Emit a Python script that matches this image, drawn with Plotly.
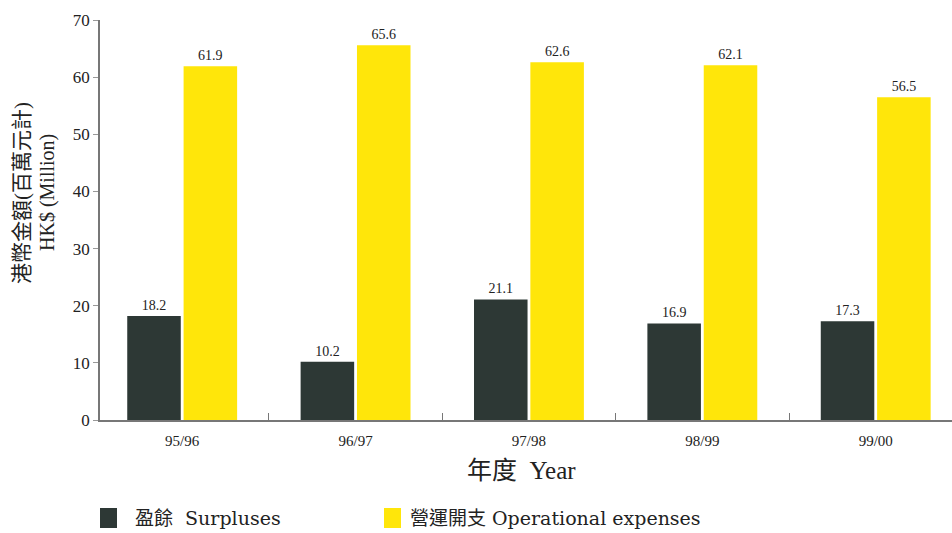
import plotly.graph_objects as go

years = ["95/96", "96/97", "97/98", "98/99", "99/00"]
surpluses = [18.2, 10.2, 21.1, 16.9, 17.3]
expenses = [61.9, 65.6, 62.6, 62.1, 56.5]
series_names = ["盈餘  Surpluses", "營運開支 Operational expenses"]

SERIF = "Liberation Serif, Noto Sans CJK TC, serif"
LEGSERIF = "DejaVu Serif, Noto Sans CJK TC, serif"
DARK = "#2d3835"
YELLOW = "#ffe60a"
colors = [DARK, YELLOW]

fig = go.Figure()
for name, vals, col in zip(series_names, [surpluses, expenses], colors):
    fig.add_trace(go.Bar(
        x=years, y=vals, name=name, showlegend=False,
        marker=dict(color=col, line=dict(width=0)),
        text=[f"{v:.1f}" for v in vals], textposition="outside",
        textfont=dict(family=SERIF, size=14, color="#222"),
        cliponaxis=False,
    ))

PW, PH = 852, 400  # plot area size in px


def px_x(x):
    return (x - 100) / PW


def px_y(y):
    return (420 - y) / PH


shapes = []
annotations = [
    dict(text="港幣金額(百萬元計)", textangle=-90, xref="paper", yref="paper",
         x=px_x(22), y=px_y(193), xanchor="center", yanchor="middle",
         showarrow=False, font=dict(family=SERIF, size=21, color="#222")),
    dict(text="HK$ (Million)", textangle=-90, xref="paper", yref="paper",
         x=px_x(47), y=px_y(193), xanchor="center", yanchor="middle",
         showarrow=False, font=dict(family=SERIF, size=20, color="#222")),
    dict(text="年度  Year", xref="paper", yref="paper",
         x=px_x(521), y=px_y(470), xanchor="center", yanchor="middle",
         showarrow=False, font=dict(family=SERIF, size=25, color="#222")),
]

# manual legend
leg_sq_x = [100, 384]
leg_tx_x = [133, 408]
for name, col, sx, tx in zip(series_names, colors, leg_sq_x, leg_tx_x):
    shapes.append(dict(type="rect", xref="paper", yref="paper",
                       x0=px_x(sx), x1=px_x(sx + 17), y0=px_y(528), y1=px_y(508),
                       fillcolor=col, line=dict(width=0)))
    annotations.append(dict(text=name, xref="paper", yref="paper",
                            x=px_x(tx), y=px_y(518), xanchor="left", yanchor="middle",
                            showarrow=False,
                            font=dict(family=LEGSERIF, size=19, color="#222")))

fig.update_layout(
    width=952, height=533,
    margin=dict(l=100, r=0, t=20, b=113, autoexpand=False),
    paper_bgcolor="white", plot_bgcolor="white",
    barmode="group", bargap=0.35, bargroupgap=0.05,
    font=dict(family=SERIF, color="#222"),
    showlegend=False,
    xaxis=dict(
        range=[-0.474, 4.44],
        showline=True, linecolor="#777", linewidth=1.5,
        ticks="inside", tickson="boundaries", ticklen=7, tickcolor="#777",
        tickfont=dict(family=SERIF, size=15, color="#222"),
        ticklabelstandoff=6,
        showgrid=False, automargin=False,
    ),
    yaxis=dict(
        range=[0, 70], dtick=10,
        showline=True, linecolor="#777", linewidth=1.5,
        ticks="outside", ticklen=5, tickcolor="#999",
        tickfont=dict(family=SERIF, size=17, color="#222"),
        showgrid=False, zeroline=False, automargin=False,
    ),
    shapes=shapes,
    annotations=annotations,
)

fig.write_html("out.html")
